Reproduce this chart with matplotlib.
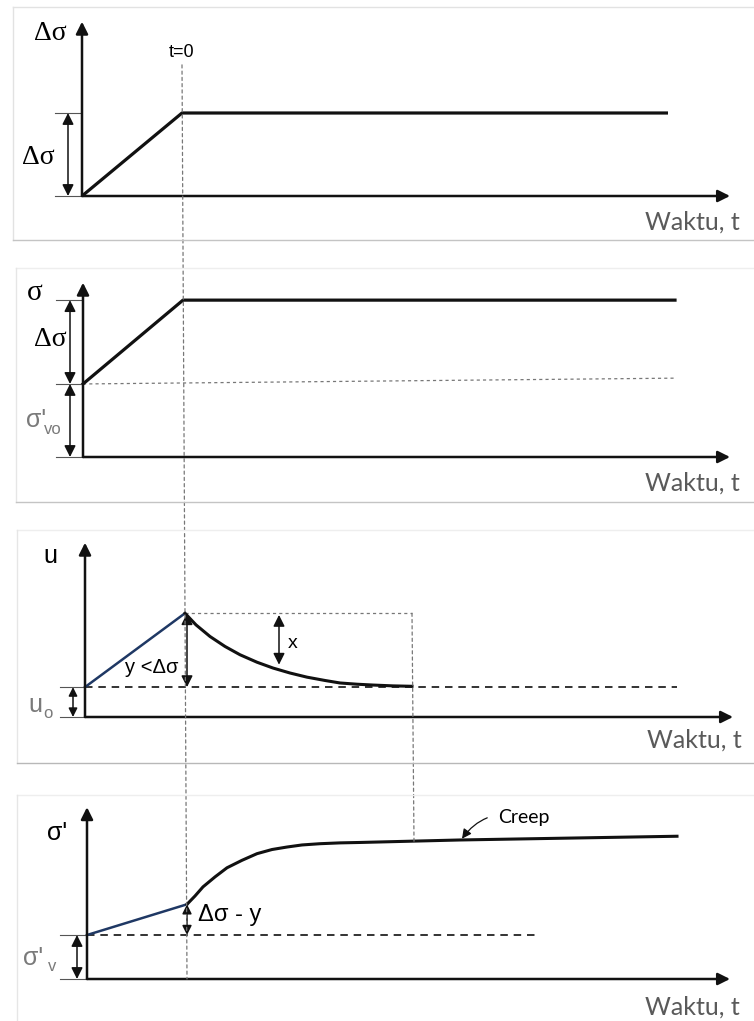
import matplotlib
matplotlib.use("Agg")
import matplotlib.pyplot as plt
from matplotlib.lines import Line2D
from matplotlib.patches import ConnectionPatch

# ---- data (time in diagram units, t=0 = end of loading) ----
p1_t = [-1.0, 0.0, 4.86]
p1_val = [0.0, 1.0, 1.0]            # delta sigma

p2_t = [-1.0, 0.0, 4.92]
p2_val = [0.88, 1.89, 1.89]         # total stress
p2_init_t = [-1.0, 4.92]
p2_init_val = [0.88, 0.95]          # sigma'vo reference

p3_load_t = [-1.0, 0.0]
p3_load_u = [0.36, 1.25]
p3_diss_t = [0.0, 0.11, 0.25, 0.40, 0.55, 0.72, 0.88, 1.05, 1.22, 1.40,
             1.55, 1.72, 1.88, 2.08, 2.27]
p3_diss_u = [1.25, 1.11, 0.97, 0.85, 0.75, 0.66, 0.59, 0.53, 0.48, 0.44,
             0.41, 0.395, 0.385, 0.375, 0.37]
u0 = 0.36

p4_load_t = [-1.0, 0.0]
p4_load_s = [0.53, 0.90]
p4_cons_t = [0.0, 0.08, 0.16, 0.28, 0.40, 0.55, 0.70, 0.85, 1.00, 1.15,
             1.33, 1.53, 1.73, 2.23, 2.73, 4.90]
p4_cons_s = [0.90, 1.00, 1.11, 1.23, 1.34, 1.43, 1.51, 1.56, 1.59, 1.615,
             1.63, 1.64, 1.645, 1.66, 1.675, 1.72]
sv0 = 0.53

T_DISS = 2.27

W, H = 754, 1021
PX_T, PX_V = 100.0, 83.0

fig = plt.figure(figsize=(W / 100, H / 100), dpi=100, facecolor="white")

BLACK = "#111111"
NAVY = "#1f3864"
GREY_TXT = "#7a7a7a"
WAKTU = "#5a5a5a"
SERIF = "Liberation Serif"
SANS = "Liberation Sans"


def make_panel(top_px, bot_px, t0_px, base_px):
    ax = fig.add_axes([0, 1 - bot_px / H, 1, (bot_px - top_px) / H])
    ax.set_xlim(-t0_px / PX_T, (W - t0_px) / PX_T)
    ax.set_ylim((base_px - bot_px) / PX_V, (base_px - top_px) / PX_V)
    ax.axis("off")
    return ax


def axes_arrows(ax, t_end, v_top, t_lbl, v_lbl):
    ap = dict(arrowstyle="-|>", lw=1.8, color=BLACK, mutation_scale=18,
              shrinkA=0, shrinkB=0)
    ax.annotate("", xy=(t_end, 0), xytext=(-1.0, 0), arrowprops=ap)
    ax.annotate("", xy=(-1.0, v_top), xytext=(-1.0, 0), arrowprops=ap)
    ax.text(t_lbl, v_lbl, "Waktu, t", fontsize=18, family="Lato",
            color=WAKTU, ha="right", va="center")


def dim_arrow(ax, t, v0, v1, ms=17):
    ax.annotate("", xy=(t, v1), xytext=(t, v0),
                arrowprops=dict(arrowstyle="<|-|>", lw=1.1, color=BLACK,
                                mutation_scale=ms, shrinkA=0, shrinkB=0))


def tick(ax, v, t0=-1.27, t1=-1.02):
    ax.plot([t0, t1], [v, v], color="#555555", lw=0.8)


def border(x0, y0, x1, y1, color):
    fig.add_artist(Line2D([x0 / W, x1 / W], [1 - y0 / H, 1 - y1 / H],
                          transform=fig.transFigure, color=color, lw=1.0))


# panel frames
border(13, 7, W, 7, "#e2e2e2")
border(13, 7, 13, 240, "#e2e2e2")
border(13, 240, W, 240, "#c4c4c4")
border(16, 268, W, 268, "#eeeeee")
border(16, 268, 16, 502, "#e6e6e6")
border(16, 502, W, 502, "#c4c4c4")
border(17, 530, W, 530, "#eeeeee")
border(17, 530, 17, 763, "#e6e6e6")
border(17, 763, W, 763, "#b8b8b8")
border(17, 795, W, 795, "#eeeeee")
border(17, 795, 17, H, "#e6e6e6")

dot = (0, (2.5, 2.5))

# ---- panel 1 : applied load ----
ax1 = make_panel(0, 250, 182, 196)
axes_arrows(ax1, 5.48, 2.10, 5.58, -0.31)
ax1.plot(p1_t, p1_val, color=BLACK, lw=2.3, solid_capstyle="butt")
dim_arrow(ax1, -1.14, 0, p1_val[1])
tick(ax1, 0)
tick(ax1, p1_val[1])
ax1.text(-1.32, 1.96, "Δσ", fontsize=20, family=SERIF, ha="center", va="center")
ax1.text(-1.44, 0.46, "Δσ", fontsize=20, family=SERIF, ha="center", va="center")
ax1.text(0.0, 1.73, "t=0", fontsize=13, family=SANS, ha="center", va="center")

# ---- panel 2 : total stress ----
ax2 = make_panel(250, 510, 183, 457)
axes_arrows(ax2, 5.47, 2.10, 5.57, -0.31)
ax2.plot(p2_init_t, p2_init_val, color="#777777", lw=0.9, ls=dot)
ax2.plot(p2_t, p2_val, color=BLACK, lw=2.3)
dim_arrow(ax2, -1.13, p2_val[0], p2_val[1])
dim_arrow(ax2, -1.13, 0, p2_val[0])
tick(ax2, 0)
tick(ax2, p2_val[0])
tick(ax2, p2_val[1])
ax2.text(-1.48, 1.98, "σ", fontsize=21, family=SERIF, ha="center", va="center")
ax2.text(-1.33, 1.41, "Δσ", fontsize=20, family=SERIF, ha="center", va="center")
ax2.text(-1.47, 0.45, "σ'", fontsize=18, family=SANS, color=GREY_TXT,
         ha="center", va="center")
ax2.text(-1.30, 0.33, "vo", fontsize=12, family=SANS, color=GREY_TXT,
         ha="center", va="center")

# ---- panel 3 : pore pressure ----
ax3 = make_panel(510, 770, 185, 717)
axes_arrows(ax3, 5.48, 2.10, 5.57, -0.28)
ax3.plot([-1.0, 4.92], [u0, u0], color=BLACK, lw=1.2, ls=(0, (4.5, 3.5)))
ax3.plot([0, T_DISS], [p3_load_u[1], p3_load_u[1]], color="#777777", lw=0.9, ls=dot)
ax3.plot(p3_load_t, p3_load_u, color=NAVY, lw=1.8)
ax3.plot(p3_diss_t, p3_diss_u, color=BLACK, lw=2.2)
dim_arrow(ax3, 0.02, u0, p3_load_u[1])
dim_arrow(ax3, 0.94, 0.63, 1.23)
dim_arrow(ax3, -1.12, 0, u0, ms=13)
tick(ax3, 0, -1.25)
tick(ax3, u0, -1.25)
ax3.text(-1.35, 1.94, "u", fontsize=18, family=SANS, ha="center", va="center")
ax3.text(-0.33, 0.60, "y <Δσ", fontsize=14.5, family=SANS, ha="center", va="center")
ax3.text(1.08, 0.89, "x", fontsize=14, family=SANS, ha="center", va="center")
ax3.text(-1.50, 0.14, "u", fontsize=18, family=SANS, color=GREY_TXT,
         ha="center", va="center")
ax3.text(-1.37, 0.04, "o", fontsize=12, family=SANS, color=GREY_TXT,
         ha="center", va="center")

# ---- panel 4 : effective stress ----
ax4 = make_panel(770, H, 187, 979)
axes_arrows(ax4, 5.43, 2.07, 5.53, -0.34)
ax4.plot([-1.0, 3.53], [sv0, sv0], color=BLACK, lw=1.2, ls=(0, (4.5, 3.5)))
ax4.plot(p4_load_t, p4_load_s, color=NAVY, lw=1.8)
ax4.plot(p4_cons_t, p4_cons_s, color=BLACK, lw=2.2)
dim_arrow(ax4, 0.0, sv0, p4_load_s[1], ms=14)
dim_arrow(ax4, -1.10, 0, sv0)
tick(ax4, 0)
tick(ax4, sv0)
ax4.text(-1.30, 1.76, "σ'", fontsize=18, family=SANS, ha="center", va="center")
ax4.text(0.11, 0.77, "Δσ - y", fontsize=17, family=SANS, ha="left", va="center")
ax4.text(-1.54, 0.25, "σ'", fontsize=18, family=SANS, color=GREY_TXT,
         ha="center", va="center")
ax4.text(-1.35, 0.15, "v", fontsize=12, family=SANS, color=GREY_TXT,
         ha="center", va="center")
ax4.annotate("Creep", xy=(2.75, 1.69), xytext=(3.11, 1.95), fontsize=14,
             family="Lato", ha="left", va="center",
             arrowprops=dict(arrowstyle="-|>", lw=0.9, color=BLACK,
                             mutation_scale=14, shrinkA=6, shrinkB=0,
                             connectionstyle="arc3,rad=0.35"))

# t = 0 guide through all panels, and end of dissipation guide
fig.add_artist(ConnectionPatch(xyA=(0, 1.58), coordsA=ax1.transData,
                               xyB=(0, 0), coordsB=ax4.transData,
                               color="#777777", lw=0.9, ls=dot))
fig.add_artist(ConnectionPatch(xyA=(T_DISS, p3_load_u[1]), coordsA=ax3.transData,
                               xyB=(T_DISS, 1.66), coordsB=ax4.transData,
                               color="#777777", lw=0.9, ls=dot))

fig.savefig("out.png", dpi=100, facecolor="white")
